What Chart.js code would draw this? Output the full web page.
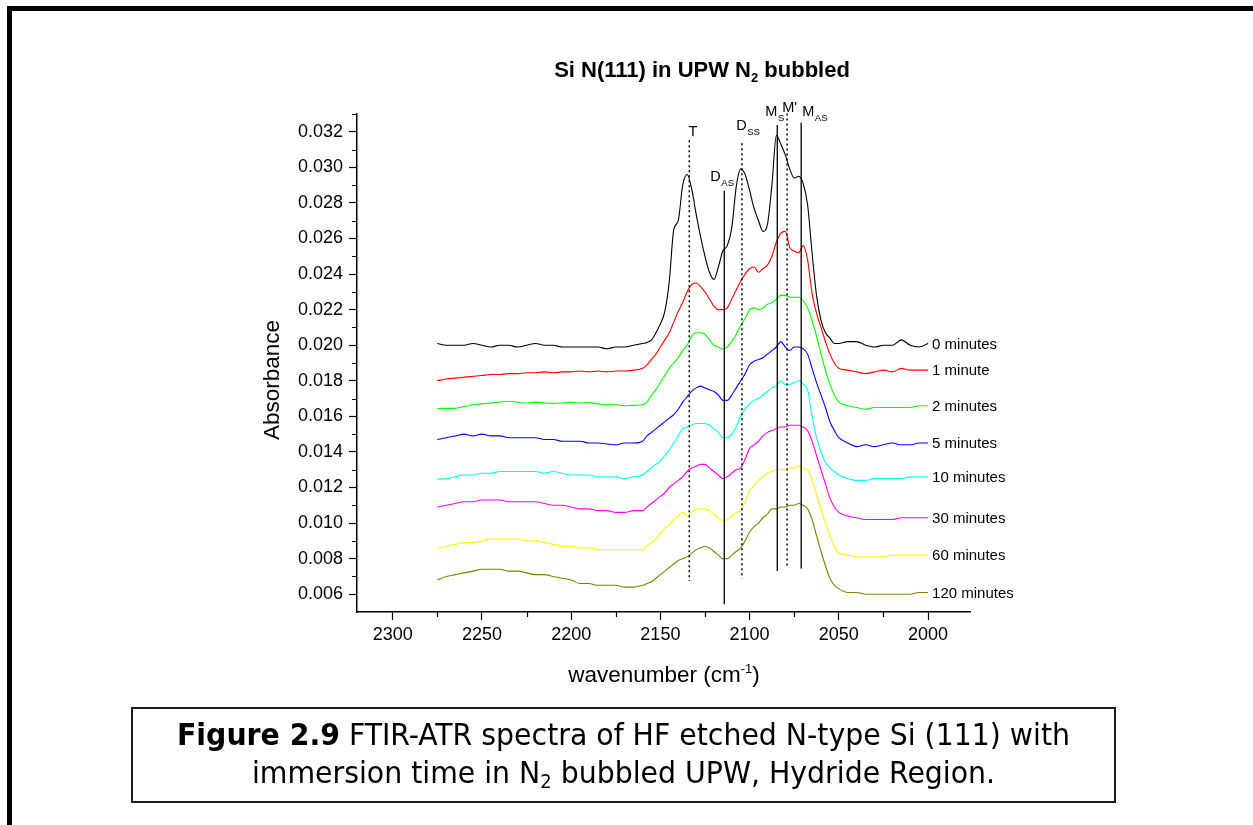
<!DOCTYPE html>
<html>
<head>
<meta charset="utf-8">
<script src="https://cdn.jsdelivr.net/npm/chart.js@4.4.1/dist/chart.umd.min.js"></script>
<style>
  html, body { margin: 0; padding: 0; background: #fff; overflow: hidden; }
  body { width: 1253px; height: 825px; position: relative; font-family: "Liberation Sans", Arial, sans-serif; color: #000; }
  #frame { position: absolute; left: 7px; top: 6px; width: 1400px; height: 1000px; border: 5px solid #000; box-sizing: border-box; }
  canvas { position: absolute; left: 0; top: 0; }
  #title { position: absolute; left: 402px; top: 58px; width: 600px; text-align: center; font-weight: bold; font-size: 22px; line-height: 24px; }
  #title sub { font-size: 13px; vertical-align: -5px; line-height: 0; }
  #xtitle { position: absolute; left: 464px; top: 662px; width: 400px; text-align: center; font-size: 22.5px; line-height: 26px; }
  #xtitle sup { font-size: 13px; vertical-align: 9px; line-height: 0; }
  #ytitle { position: absolute; left: 172px; top: 367px; width: 200px; text-align: center; font-size: 22.5px; line-height: 26px; transform: rotate(-90deg); }
  #caption { position: absolute; left: 131px; top: 707px; width: 985px; height: 96px; box-sizing: border-box; border: 2px solid #1a1a1a; background: #fff; }
  #captext { position: absolute; left: 0; right: 0; top: 7px; text-align: center; font-family: "DejaVu Sans Condensed", Tahoma, "DejaVu Sans", sans-serif; font-size: 30px; line-height: 38px; white-space: nowrap; transform-origin: 50% 0; }
  #captext sub { font-size: 19px; vertical-align: -5px; line-height: 0; }
  #captext span { display: inline-block; }
</style>
</head>
<body>
<div id="frame"></div>
<canvas id="chart" width="1253" height="825"></canvas>
<div id="title">Si N(111) in UPW N<sub>2</sub> bubbled</div>
<div id="xtitle">wavenumber (cm<sup>-1</sup>)</div>
<div id="ytitle">Absorbance</div>
<div id="caption">
  <div id="captext"><span id="capline1"><b>Figure 2.9</b> FTIR-ATR spectra of HF etched N-type Si (111) with</span><br><span>immersion time in N<sub>2</sub> bubbled UPW, Hydride Region.</span></div>
</div>
<script>
// wavenumber (cm-1) of every sample
const wavenumbers = [
  2275, 2270, 2265, 2260, 2255, 2250, 2245, 2240, 2235, 2230, 2225, 2220,
  2215, 2210, 2205, 2200, 2195, 2190, 2185, 2180, 2175, 2170, 2165, 2160,
  2157.5, 2155, 2152.5, 2150, 2147.5, 2145, 2142.5, 2140, 2137.5, 2135, 2132.5,
  2130, 2127.5, 2125, 2122.5, 2120, 2117.5, 2115, 2112.5, 2110, 2107.5, 2105,
  2102.5, 2100, 2097.5, 2095, 2092.5, 2090, 2087.5, 2085, 2082.5, 2080, 2077.5,
  2075, 2072.5, 2070, 2067.5, 2065, 2062.5, 2060, 2057.5, 2055, 2052.5,
  2050, 2045, 2040, 2035, 2030, 2025, 2020, 2015, 2010, 2005, 2000
];

const min0 = [
  0.0201, 0.0200, 0.0200, 0.0200, 0.0201, 0.0200, 0.0199, 0.0200, 0.0200, 0.0199, 0.0200, 0.0201,
  0.0200, 0.0200, 0.0199, 0.0199, 0.0199, 0.0199, 0.0199, 0.0198, 0.0199, 0.0199, 0.0200, 0.0201,
  0.02015, 0.0203, 0.0207, 0.0212, 0.0219, 0.0236, 0.0265, 0.0270, 0.0290, 0.0296, 0.0288,
  0.0274, 0.0261, 0.0250, 0.0241, 0.0237, 0.0244, 0.0253, 0.0256, 0.0266, 0.0289, 0.0299,
  0.0296, 0.0287, 0.0277, 0.0270, 0.0264, 0.0268, 0.0290, 0.0318, 0.0313, 0.0307, 0.0299,
  0.0294, 0.0295, 0.0291, 0.0279, 0.0252, 0.0228, 0.0214, 0.0207, 0.0204, 0.0201,
  0.0201, 0.0202, 0.0202, 0.0200, 0.0199, 0.0200, 0.0200, 0.0203, 0.0200, 0.0199, 0.0201
];
const min1 = [
  0.0180, 0.0181, 0.01815, 0.0182, 0.01825, 0.0183, 0.01835, 0.01835, 0.0184, 0.0184, 0.01845, 0.01845,
  0.0185, 0.01845, 0.0185, 0.0185, 0.01855, 0.0185, 0.01855, 0.0185, 0.01855, 0.01855, 0.0186, 0.0187,
  0.0189, 0.0192, 0.0195, 0.0199, 0.0203, 0.0207, 0.0213, 0.0219, 0.0224, 0.0230, 0.0234,
  0.0235, 0.0233, 0.0230, 0.0226, 0.0222, 0.0220, 0.0220, 0.0221, 0.0226, 0.0231, 0.0236,
  0.0240, 0.0243, 0.0244, 0.0241, 0.0243, 0.0245, 0.0250, 0.0258, 0.0263, 0.0264, 0.0255,
  0.0253, 0.0252, 0.0256, 0.0248, 0.0229, 0.0218, 0.0210, 0.0202, 0.0195, 0.0190,
  0.0187, 0.0186, 0.0185, 0.0184, 0.0185, 0.0186, 0.0185, 0.0187, 0.0186, 0.0186, 0.0186
];
const min2 = [
  0.01643, 0.01645, 0.01645, 0.01655, 0.01665, 0.0167, 0.01675, 0.0168, 0.01685, 0.0168, 0.01675, 0.0168,
  0.01675, 0.01673, 0.01675, 0.0168, 0.01675, 0.01677, 0.0167, 0.01665, 0.01665, 0.0166, 0.01662, 0.01665,
  0.0168, 0.0172, 0.0175, 0.0179, 0.0183, 0.0187, 0.0190, 0.0193, 0.0197, 0.0200, 0.0205,
  0.0207, 0.0207, 0.0206, 0.0203, 0.0200, 0.0199, 0.0198, 0.0199, 0.0202, 0.0206, 0.0211,
  0.0215, 0.0220, 0.0221, 0.0220, 0.0221, 0.0223, 0.0224, 0.0226, 0.0228, 0.0228, 0.0227,
  0.0227, 0.0227, 0.0225, 0.0221, 0.0214, 0.0205, 0.0195, 0.0186, 0.0178, 0.0172,
  0.0168, 0.0166, 0.0165, 0.0164, 0.0165, 0.0165, 0.0165, 0.0165, 0.0165, 0.0166, 0.0166
];
const min5 = [
  0.0147, 0.0148, 0.0149, 0.0150, 0.0149, 0.0150, 0.0149, 0.0149, 0.0148, 0.0148, 0.0148, 0.0148,
  0.0147, 0.0147, 0.0146, 0.0146, 0.0146, 0.0145, 0.0145, 0.01445, 0.0144, 0.0145, 0.0145, 0.0146,
  0.0149, 0.0151, 0.0153, 0.0155, 0.0157, 0.0159, 0.0161, 0.0164, 0.0168, 0.0171, 0.0174,
  0.0176, 0.0177, 0.0176, 0.0175, 0.0174, 0.0172, 0.0169, 0.0169, 0.0172, 0.0176, 0.0180,
  0.0184, 0.0189, 0.0191, 0.0192, 0.0193, 0.0195, 0.0197, 0.0199, 0.0202, 0.0199, 0.0197,
  0.0199, 0.0199, 0.0198, 0.0195, 0.0187, 0.0179, 0.0172, 0.0165, 0.0157, 0.0152,
  0.0148, 0.0145, 0.0143, 0.0144, 0.0143, 0.0144, 0.0145, 0.0144, 0.0144, 0.0145, 0.0145
];
const min10 = [
  0.01246, 0.0125, 0.0126, 0.0127, 0.0127, 0.0128, 0.0128, 0.0129, 0.0129, 0.0129, 0.0129, 0.0129,
  0.0128, 0.0129, 0.0128, 0.0127, 0.0127, 0.0127, 0.0126, 0.0126, 0.0126, 0.0125, 0.0126, 0.0127,
  0.0129, 0.0131, 0.0133, 0.0135, 0.0138, 0.0141, 0.0145, 0.0149, 0.0153, 0.0154, 0.0155,
  0.0156, 0.0156, 0.0156, 0.0155, 0.0153, 0.0151, 0.0148, 0.0148, 0.0150, 0.0154, 0.0160,
  0.0164, 0.0167, 0.0169, 0.0170, 0.0172, 0.0174, 0.0176, 0.0177, 0.0180, 0.0178, 0.0178,
  0.0179, 0.0180, 0.0178, 0.0175, 0.0160, 0.0148, 0.0140, 0.0134, 0.0131, 0.0129,
  0.0127, 0.0125, 0.0124, 0.0124, 0.0125, 0.0125, 0.0125, 0.0125, 0.0126, 0.0126, 0.0126
];
const min30 = [
  0.0109, 0.0110, 0.0111, 0.0112, 0.0112, 0.0113, 0.0113, 0.0113, 0.0112, 0.0112, 0.0112, 0.0112,
  0.0111, 0.0110, 0.0110, 0.0109, 0.0108, 0.0108, 0.0107, 0.0107, 0.0106, 0.0106, 0.0107, 0.0107,
  0.0109, 0.0111, 0.0113, 0.0115, 0.0117, 0.0120, 0.0122, 0.0124, 0.0126, 0.0129, 0.0131,
  0.0132, 0.0133, 0.0133, 0.0131, 0.0129, 0.0127, 0.0125, 0.0126, 0.0128, 0.0130, 0.0131,
  0.0136, 0.0142, 0.0144, 0.0146, 0.0149, 0.0151, 0.0152, 0.0153, 0.0154, 0.0154, 0.0155,
  0.0155, 0.0155, 0.0154, 0.0152, 0.0146, 0.0138, 0.0130, 0.0122, 0.0114, 0.0109,
  0.0106, 0.0104, 0.0103, 0.0102, 0.0102, 0.0102, 0.0102, 0.0103, 0.0103, 0.0103, 0.0103
];
const min60 = [
  0.00855, 0.0087, 0.0088, 0.0089, 0.0089, 0.0090, 0.0091, 0.0091, 0.0091, 0.0091, 0.0090, 0.0090,
  0.0089, 0.0088, 0.0087, 0.0087, 0.0086, 0.0086, 0.0085, 0.0085, 0.0085, 0.0085, 0.0085, 0.0085,
  0.0087, 0.0089, 0.0091, 0.0094, 0.0097, 0.0099, 0.0102, 0.0104, 0.0106, 0.0104, 0.0106,
  0.0108, 0.0108, 0.0108, 0.0107, 0.0105, 0.0103, 0.0101, 0.0102, 0.0104, 0.0106, 0.0107,
  0.0112, 0.0118, 0.0121, 0.0124, 0.0126, 0.0128, 0.0129, 0.0130, 0.0130, 0.0130, 0.0131,
  0.0131, 0.0132, 0.0131, 0.0130, 0.0124, 0.0116, 0.0108, 0.0100, 0.0093, 0.0087,
  0.0083, 0.0082, 0.0081, 0.0081, 0.0081, 0.0081, 0.0082, 0.0082, 0.0082, 0.0082, 0.0082
];
const min120 = [
  0.0068, 0.0070, 0.0071, 0.0072, 0.0073, 0.0074, 0.0074, 0.0074, 0.0073, 0.0073, 0.0072, 0.0071,
  0.0071, 0.0070, 0.0069, 0.0068, 0.0066, 0.0066, 0.0065, 0.0065, 0.0065, 0.0064, 0.0064, 0.0065,
  0.0066, 0.0067, 0.0069, 0.0071, 0.0073, 0.0075, 0.0077, 0.0079, 0.0080, 0.0081, 0.0083,
  0.0085, 0.0086, 0.0087, 0.0086, 0.0084, 0.0082, 0.0080, 0.0080, 0.0082, 0.0084, 0.0086,
  0.0090, 0.0095, 0.0098, 0.0100, 0.0103, 0.0105, 0.0108, 0.0108, 0.0109, 0.0109, 0.0110,
  0.0110, 0.0111, 0.0110, 0.0108, 0.0102, 0.0093, 0.0084, 0.0076, 0.0069, 0.0065,
  0.0063, 0.0061, 0.0061, 0.0060, 0.0060, 0.0060, 0.0060, 0.0060, 0.0060, 0.0061, 0.0061
];

const seriesLabels = ['0 minutes', '1 minute', '2 minutes', '5 minutes', '10 minutes', '30 minutes', '60 minutes', '120 minutes'];
const seriesValues = [min0, min1, min2, min5, min10, min30, min60, min120];
const seriesColors = ['#000000', '#ff0000', '#00ff00', '#0000ff', '#00ffff', '#ff00ff', '#ffff00', '#808000'];

const xTicks = [2300, 2250, 2200, 2150, 2100, 2050, 2000];
const xMinorTicks = [2275, 2225, 2175, 2125, 2075, 2025];
const yTicks = [0.006, 0.008, 0.010, 0.012, 0.014, 0.016, 0.018, 0.020, 0.022, 0.024, 0.026, 0.028, 0.030, 0.032];
const yMinorTicks = [0.007, 0.009, 0.011, 0.013, 0.015, 0.017, 0.019, 0.021, 0.023, 0.025, 0.027, 0.029, 0.031, 0.033];

// band assignment lines
const markerNames = ['T', 'D', 'D', 'M', "M'", 'M'];
const markerSubs = ['', 'AS', 'SS', 'S', '', 'AS'];
const markerWave = [2133.8, 2114.2, 2104.3, 2084.5, 2079.0, 2071.1];
const markerTop = [0.03153, 0.02869, 0.03135, 0.03238, 0.03303, 0.03251];
const markerBottom = [0.00675, 0.00544, 0.00688, 0.00731, 0.0075, 0.00744];
const markerDotted = [true, false, true, false, true, false];
const labelWave = [2134.3, 2122.0, 2107.5, 2091.2, 2081.7, 2070.5];
const labelAbs = [0.03176, 0.02923, 0.0321, 0.03288, 0.03312, 0.03288];

const extras = {
  id: 'extras',
  afterDraw(chart) {
    const { ctx, chartArea } = chart;
    const x = chart.scales.x, y = chart.scales.y;
    ctx.save();
    ctx.strokeStyle = '#000';
    ctx.fillStyle = '#000';
    ctx.lineWidth = 1.2;

    // minor ticks
    ctx.beginPath();
    xMinorTicks.forEach(v => {
      const px = Math.round(x.getPixelForValue(v)) + 0.5;
      ctx.moveTo(px, chartArea.bottom);
      ctx.lineTo(px, chartArea.bottom + 5);
    });
    yMinorTicks.forEach(v => {
      const py = Math.round(y.getPixelForValue(v)) + 0.5;
      ctx.moveTo(chartArea.left - 5, py);
      ctx.lineTo(chartArea.left, py);
    });
    ctx.stroke();

    // marker lines and labels
    markerWave.forEach((w, i) => {
      const px = x.getPixelForValue(w);
      ctx.beginPath();
      ctx.lineWidth = markerDotted[i] ? 1.5 : 1.3;
      ctx.setLineDash(markerDotted[i] ? [2, 3] : []);
      ctx.moveTo(px, y.getPixelForValue(markerTop[i]));
      ctx.lineTo(px, y.getPixelForValue(markerBottom[i]));
      ctx.stroke();
      ctx.setLineDash([]);

      const lx = x.getPixelForValue(labelWave[i]);
      const ly = y.getPixelForValue(labelAbs[i]);
      ctx.textAlign = 'left';
      ctx.textBaseline = 'alphabetic';
      ctx.font = '14.5px "Liberation Sans", Arial, sans-serif';
      ctx.fillText(markerNames[i], lx, ly);
      if (markerSubs[i]) {
        const wMain = ctx.measureText(markerNames[i]).width;
        ctx.font = '9.5px "Liberation Sans", Arial, sans-serif';
        ctx.fillText(markerSubs[i], lx + wMain + 0.5, ly + 5);
      }
    });

    // curve labels at the right end of each spectrum
    ctx.font = '15px "Liberation Sans", Arial, sans-serif';
    ctx.textAlign = 'left';
    ctx.textBaseline = 'middle';
    chart.data.datasets.forEach((ds, i) => {
      const last = ds.data[ds.data.length - 1];
      ctx.fillText(seriesLabels[i], x.getPixelForValue(last.x) + 4, y.getPixelForValue(last.y) + 1);
    });
    ctx.restore();
  }
};

const tickFont = { family: '"Liberation Sans", Arial, sans-serif', size: 18 };

new Chart(document.getElementById('chart'), {
  type: 'line',
  data: {
    datasets: seriesValues.map((vals, i) => ({
      label: seriesLabels[i],
      data: wavenumbers.map((w, j) => ({ x: w, y: vals[j] })),
      borderColor: seriesColors[i],
      borderWidth: 1.1,
      pointRadius: 0,
      fill: false,
      cubicInterpolationMode: 'monotone'
    }))
  },
  options: {
    responsive: false,
    animation: false,
    events: [],
    layout: { padding: { left: 0, top: 114, right: 283, bottom: 173 } },
    plugins: { legend: { display: false }, tooltip: { enabled: false } },
    scales: {
      x: {
        type: 'linear',
        reverse: true,
        min: 1976.5,
        max: 2320,
        afterBuildTicks: s => { s.ticks = xTicks.map(v => ({ value: v })); },
        afterFit: s => { s.height = 40; },
        ticks: { color: '#000', font: tickFont, padding: 4, autoSkip: false, maxRotation: 0, callback: v => String(v) },
        grid: { drawOnChartArea: false, drawTicks: true, tickLength: 8, tickColor: '#000', tickWidth: 1.2 },
        border: { color: '#000', width: 1.5 }
      },
      y: {
        type: 'linear',
        min: 0.005,
        max: 0.033,
        afterBuildTicks: s => { s.ticks = yTicks.map(v => ({ value: v })); },
        afterFit: s => { s.width = 357; },
        ticks: { color: '#000', font: tickFont, padding: 6, callback: v => v.toFixed(3) },
        grid: { drawOnChartArea: false, drawTicks: true, tickLength: 8, tickColor: '#000', tickWidth: 1.2 },
        border: { color: '#000', width: 1.5 }
      }
    }
  },
  plugins: [extras]
});

// fit the caption width to the figure box
const capText = document.getElementById('captext');
const line1 = document.getElementById('capline1');
const k = 893 / line1.getBoundingClientRect().width;
capText.style.transform = 'scaleX(' + k + ')';
</script>
</body>
</html>
